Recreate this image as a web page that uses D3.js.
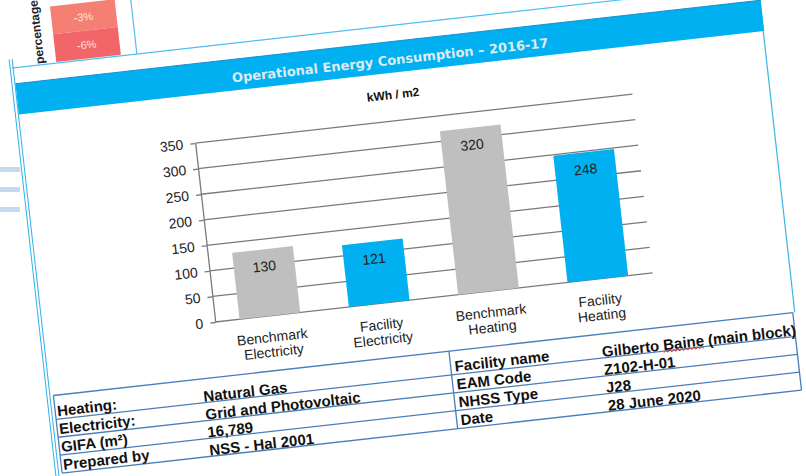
<!DOCTYPE html>
<html>
<head>
<meta charset="utf-8">
<script src="https://cdn.jsdelivr.net/npm/d3@7"></script>
<style>
body{margin:0;background:#fff;}
svg{display:block;}
</style>
</head>
<body>
<svg id="graph" width="806" height="476"></svg>
<script>
// valeurs
var categories = [["Benchmark","Electricity"],["Facility","Electricity"],["Benchmark","Heating"],["Facility","Heating"]];
var valeurs = [130,121,320,248];
var couleurs = ["#bfbfbf","#00b0f0","#bfbfbf","#00b0f0"];
var yTicks = [0,50,100,150,200,250,300,350];
var titre = "Operational Energy Consumption \u2013 2016-17";
var unite = "kWh / m2";
var pourcentages = ["-3%","-6%"];
var couleursPct = ["#f47f72","#f2666a"];
var infoGauche = [["Heating:","Natural Gas"],["Electricity:","Grid and Photovoltaic"],["GIFA (m\u00b2)","16,789"],["Prepared by","NSS - Hal 2001"]];
var infoDroite = [["Facility name","Gilberto Baine (main block)"],["EAM Code","Z102-H-01"],["NHSS Type","J28"],["Date","28 June 2020"]];

var svg = d3.select("#graph");
var police = "'Liberation Sans', Arial, sans-serif";

// petites barres bleues a gauche (vignettes)
[167,187,207].forEach(function(yy){
	svg.append("rect").attr("x",0).attr("y",yy).attr("width",20).attr("height",5).attr("fill","#c6d9f0");
});

// toute la page est tournee
var g = svg.append("g").attr("transform","rotate(-6.4)");

// fond blanc du document
g.append("rect").attr("x",4).attr("y",-40).attr("width",752).attr("height",530).attr("fill","#fff");

// morceau du tableau precedent (pourcentages)
var hCell = 28;
pourcentages.forEach(function(p,i){
	g.append("rect").attr("x",49).attr("y",12+i*hCell).attr("width",65).attr("height",hCell).attr("fill",couleursPct[i]);
	g.append("text").attr("x",81).attr("y",12+i*hCell+hCell/2+4).attr("text-anchor","middle")
		.attr("font-family",police).attr("font-size",11).attr("fill","#fde4df").text(p);
});
g.append("text").attr("transform","translate(37,36) rotate(-90)").attr("text-anchor","middle")
	.attr("font-family",police).attr("font-weight","bold").attr("font-size",12).attr("fill","#222").text("percentage");
g.append("line").attr("x1",130).attr("x2",130).attr("y1",-40).attr("y2",69).attr("stroke","#4fc0f0").attr("stroke-width",1.2);
g.append("line").attr("x1",4).attr("x2",756).attr("y1",69).attr("y2",69).attr("stroke","#4fc0f0").attr("stroke-width",1.2);

// bordure bleue double a gauche, simple a droite
[2.5,5.5].forEach(function(xx){
	g.append("line").attr("x1",xx).attr("x2",xx).attr("y1",60).attr("y2",490).attr("stroke","#2eb2ec").attr("stroke-width",1);
});
g.append("line").attr("x1",755).attr("x2",755).attr("y1",86).attr("y2",399).attr("stroke","#3bb5ec").attr("stroke-width",1.2);

// bandeau titre
g.append("rect").attr("x",6).attr("y",85).attr("width",750).attr("height",31).attr("fill","#00b0f0");
g.append("line").attr("x1",6).attr("x2",756).attr("y1",85).attr("y2",85).attr("stroke","#1a8fd0").attr("stroke-width",1);
g.append("text").attr("x",381).attr("y",108).attr("text-anchor","middle")
	.attr("font-family","'DejaVu Sans', Verdana, sans-serif").attr("font-weight","bold").attr("font-size",13)
	.attr("fill","#dcecf5").text(titre);

// graphique
var x = d3.scaleBand().domain(d3.range(valeurs.length)).range([178,618]).paddingInner(0.445).paddingOuter(0.2225);
var y = d3.scaleLinear().domain([0,350]).range([344,164]);

g.append("text").attr("x",380).attr("y",142).attr("text-anchor","middle")
	.attr("font-family",police).attr("font-weight","bold").attr("font-size",12).attr("fill","#111").text(unite);

g.append("g").selectAll("line").data(yTicks).enter().append("line")
	.attr("x1",178).attr("x2",618)
	.attr("y1",function(d){return y(d);}).attr("y2",function(d){return y(d);})
	.attr("stroke","#7a7a7a").attr("stroke-width",1.3);

var yAxis = d3.axisLeft(y).tickValues(yTicks).tickSize(5).tickSizeOuter(0).tickPadding(7);
var gyAxis = g.append("g").attr("transform","translate(178,0)").call(yAxis);
gyAxis.select(".domain").attr("stroke","#7a7a7a").attr("stroke-width",1.3);
gyAxis.selectAll(".tick line").attr("stroke","#7a7a7a").attr("stroke-width",1.3);
gyAxis.selectAll("text").attr("font-family",police).attr("font-size",14).attr("fill","#222");

g.append("g").selectAll("rect").data(valeurs).enter().append("rect")
	.attr("x",function(d,i){return x(i);})
	.attr("y",function(d){return y(d);})
	.attr("width",x.bandwidth())
	.attr("height",function(d){return y(0)-y(d);})
	.attr("fill",function(d,i){return couleurs[i];});

g.append("g").selectAll("text").data(valeurs).enter().append("text")
	.attr("x",function(d,i){return x(i)+x.bandwidth()/2;})
	.attr("y",function(d){return y(d)+22;})
	.attr("text-anchor","middle").attr("font-family",police).attr("font-size",14).attr("fill","#222")
	.text(function(d){return d;});

var labels = g.append("g").selectAll("text").data(categories).enter().append("text")
	.attr("text-anchor","middle").attr("font-family",police).attr("font-size",14).attr("fill","#222");
labels.selectAll("tspan").data(function(d,i){return d.map(function(t){return {t:t,i:i};});}).enter().append("tspan")
	.attr("x",function(d){return x(d.i)+x.bandwidth()/2;})
	.attr("y",function(d,j){return 370+j*15;})
	.text(function(d){return d.t;});

// tableau d'informations
var lignes = [399,423,441,459,477];
var tab = g.append("g").attr("stroke","#4a7ebb").attr("stroke-width",1.3);
lignes.forEach(function(yy){
	tab.append("line").attr("x1",9).attr("x2",753).attr("y1",yy).attr("y2",yy);
});
[9,407,753].forEach(function(xx){
	tab.append("line").attr("x1",xx).attr("x2",xx).attr("y1",399).attr("y2",477);
});

function remplir(info,xLab,xVal){
	info.forEach(function(r,i){
		var bas = lignes[i+1];
		g.append("text").attr("x",xLab).attr("y",bas-3).attr("font-family",police).attr("font-weight","bold")
			.attr("font-size",15).attr("fill","#111").text(r[0]);
		g.append("text").attr("x",xVal).attr("y",bas-1).attr("font-family",police).attr("font-weight","bold")
			.attr("font-size",15).attr("fill","#111").attr("class","val"+i+"_"+xVal).text(r[1]);
	});
}
remplir(infoGauche,11,158);
remplir(infoDroite,411,559);

// soulignement rouge du correcteur sous "Baine"
var tNom = g.select(".val0_559").node();
var debut = 559 + tNom.getSubStringLength(0,9);
var long = tNom.getSubStringLength(9,5);
var zig = "M"+debut+","+(lignes[1]+1.5);
for(k=1;k*2<=long;k++){
	zig += " L"+(debut+k*2)+","+(lignes[1]+(k%2?-0.5:1.5));
}
g.append("path").attr("d",zig).attr("fill","none").attr("stroke","#e02020").attr("stroke-width",0.9);
</script>
</body>
</html>
